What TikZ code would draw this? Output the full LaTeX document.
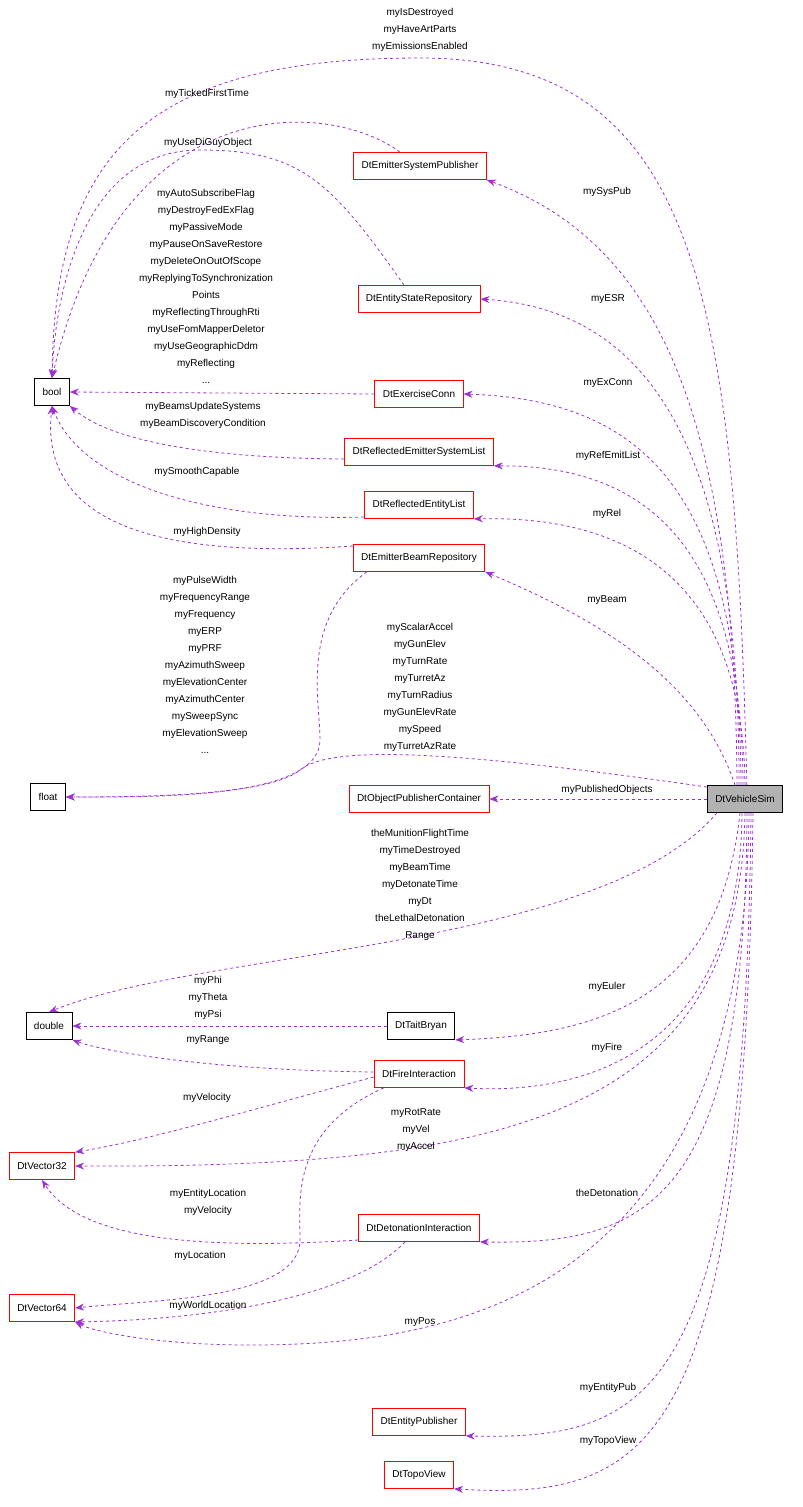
\documentclass[tikz,border=0pt]{standalone}
\usepackage{fontspec}
\setmainfont{Liberation Sans}
\usetikzlibrary{arrows.meta}
\definecolor{edgecol}{HTML}{9A32CD}

\begin{document}
\begin{tikzpicture}[x=1pt,y=-1pt,font=\fontsize{10}{17}\selectfont]
				\tikzstyle{every node}=[inner sep=0pt]
				\tikzstyle{cls}=[draw=red,thick,minimum height=27pt,inner xsep=8pt,fill=white]
				\tikzstyle{basic}=[cls,draw=black]
				\tikzstyle{rel}=[draw=edgecol,thick,dashed,-{Stealth[length=9pt,width=7pt]}]
				\tikzstyle{lbl}=[align=center]
				\useasboundingbox (0,0) rectangle (803,1507);
				% classes
				\node[basic] (bool) at (52,392) {bool};
				\node[basic] (float) at (48,797) {float};
				\node[basic] (double) at (49,1026) {double};
				\node[cls] (vec32) at (42,1166) {DtVector32};
				\node[cls] (vec64) at (42,1308) {DtVector64};
				\node[cls] (esp) at (420,166) {DtEmitterSystemPublisher};
				\node[cls] (esr) at (419,299) {DtEntityStateRepository};
				\node[cls] (exconn) at (419,394) {DtExerciseConn};
				\node[cls] (resl) at (419,452) {DtReflectedEmitterSystemList};
				\node[cls] (rel) at (419,505) {DtReflectedEntityList};
				\node[cls] (ebr) at (419,558) {DtEmitterBeamRepository};
				\node[cls] (opc) at (419,799) {DtObjectPublisherContainer};
				\node[basic,fill=black!30] (vsim) at (745,799) {DtVehicleSim};
				\node[basic] (tait) at (421,1026) {DtTaitBryan};
				\node[cls] (fire) at (419,1074) {DtFireInteraction};
				\node[cls] (deton) at (419,1228) {DtDetonationInteraction};
				\node[cls] (entpub) at (419,1422) {DtEntityPublisher};
				\node[cls] (topo) at (419,1475) {DtTopoView};
				% links to bool
				\draw[rel] (vsim.north west) ++(40,0) .. controls (735,300) and (700,58) .. (420,58) .. controls (150,58) and (55,150) .. (bool.north);
				\draw[rel] (esp.north) ++(-20,0) .. controls (330,100) and (120,85) .. (bool.north);
				\draw[rel] (esr.north) ++(-15,0) .. controls (330,180) and (300,150) .. (200,150) .. controls (80,150) and (55,300) .. (bool.north);
				\draw[rel] (exconn.west) -- (bool.east);
				\draw[rel] (resl.west) ++(0,7) .. controls (200,458) and (110,440) .. (bool.south east);
				\draw[rel] (rel.west) ++(0,12) .. controls (200,522) and (80,480) .. (bool.south);
				\draw[rel] (ebr.west) ++(0,-12) .. controls (150,560) and (40,520) .. (bool.south);
				% links to float
				\draw[rel] (ebr.south west) ++(14,0) .. controls (300,620) and (320,700) .. (320,740) .. controls (320,800) and (150,797) .. (float.east);
				\draw[rel] (vsim.west) ++(0,-12) .. controls (450,750) and (330,745) .. (300,770) .. controls (270,795) and (150,797) .. (float.east);
				% links from DtVehicleSim
				\draw[rel] (vsim.north) ++(-8,0) .. controls (735,400) and (650,240) .. (esp.south east);
				\draw[rel] (vsim.north) ++(-6,0) .. controls (740,450) and (650,310) .. (esr.east);
				\draw[rel] (vsim.north) ++(-4,0) .. controls (740,500) and (650,400) .. (exconn.east);
				\draw[rel] (vsim.north) ++(-2,0) .. controls (742,550) and (650,465) .. (resl.south east);
				\draw[rel] (vsim.north) .. controls (743,600) and (650,515) .. (rel.south east);
				\draw[rel] (vsim.north) ++(-10,0) .. controls (700,680) and (600,620) .. (ebr.south east);
				\draw[rel] (vsim.west) -- (opc.east);
				\draw[rel] (vsim.south west) ++(10,0) .. controls (600,950) and (200,950) .. (double.north);
				\draw[rel] (tait.west) -- (double.east);
				\draw[rel] (fire.west) ++(0,-2) .. controls (200,1070) and (100,1050) .. (double.south east);
				\draw[rel] (vsim.south) ++(-5,0) .. controls (720,1000) and (600,1035) .. (tait.south east);
				\draw[rel] (vsim.south) ++(-3,0) .. controls (740,1040) and (600,1095) .. (fire.south east);
				\draw[rel] (fire.west) ++(0,3) .. controls (250,1110) and (150,1140) .. (vec32.north east);
				\draw[rel] (vsim.south) .. controls (740,1120) and (500,1168) .. (vec32.east);
				\draw[rel] (vsim.south) ++(2,0) .. controls (745,1200) and (650,1245) .. (deton.south east);
				\draw[rel] (deton.west) ++(0,12) .. controls (200,1250) and (80,1240) .. (vec32.south);
				\draw[rel] (fire.south west) ++(10,0) .. controls (290,1130) and (300,1200) .. (300,1240) .. controls (300,1300) and (150,1300) .. (vec64.east);
				\draw[rel] (deton.south) ++(-14,0) .. controls (350,1300) and (200,1320) .. (vec64.south east);
				\draw[rel] (vsim.south) ++(4,0) .. controls (745,1300) and (450,1345) .. (250,1345) .. controls (150,1345) and (90,1330) .. (vec64.south east);
				\draw[rel] (vsim.south) ++(6,0) .. controls (745,1400) and (650,1440) .. (entpub.south east);
				\draw[rel] (vsim.south) ++(8,0) .. controls (745,1450) and (650,1500) .. (topo.south east);
				% labels
				\node[lbl] (l1) at (420,30) {myIsDestroyed\\myHaveArtParts\\myEmissionsEnabled};
				\node[lbl] (l2) at (207,94) {myTickedFirstTime};
				\node[lbl] (l3) at (208,143) {myUseDiGuyObject};
				\node[lbl] (l4) at (206,286) {myAutoSubscribeFlag\\myDestroyFedExFlag\\myPassiveMode\\myPauseOnSaveRestore\\myDeleteOnOutOfScope\\myReplyingToSynchronization\\Points\\myReflectingThroughRti\\myUseFomMapperDeletor\\myUseGeographicDdm\\myReflecting\\...};
				\node[lbl] (l5) at (203,415) {myBeamsUpdateSystems\\myBeamDiscoveryCondition};
				\node[lbl] (l6) at (197,472) {mySmoothCapable};
				\node[lbl] (l7) at (207,532) {myHighDensity};
				\node[lbl] (l8) at (205,665) {myPulseWidth\\myFrequencyRange\\myFrequency\\myERP\\myPRF\\myAzimuthSweep\\myElevationCenter\\myAzimuthCenter\\mySweepSync\\myElevationSweep\\...};
				\node[lbl] (l9) at (420,687) {myScalarAccel\\myGunElev\\myTurnRate\\myTurretAz\\myTurnRadius\\myGunElevRate\\mySpeed\\myTurretAzRate};
				\node[lbl] (l10) at (607,192) {mySysPub};
				\node[lbl] (l11) at (608,299) {myESR};
				\node[lbl] (l12) at (608,383) {myExConn};
				\node[lbl] (l13) at (608,456) {myRefEmitList};
				\node[lbl] (l14) at (607,514) {myRel};
				\node[lbl] (l15) at (607,600) {myBeam};
				\node[lbl] (l16) at (607,790) {myPublishedObjects};
				\node[lbl] (l17) at (420,885) {theMunitionFlightTime\\myTimeDestroyed\\myBeamTime\\myDetonateTime\\myDt\\theLethalDetonation\\Range};
				\node[lbl] (l18) at (208,998) {myPhi\\myTheta\\myPsi};
				\node[lbl] (l19) at (208,1040) {myRange};
				\node[lbl] (l20) at (607,987) {myEuler};
				\node[lbl] (l21) at (607,1048) {myFire};
				\node[lbl] (l22) at (207,1098) {myVelocity};
				\node[lbl] (l23) at (416,1130) {myRotRate\\myVel\\myAccel};
				\node[lbl] (l24) at (607,1193) {theDetonation};
				\node[lbl] (l25) at (208,1202) {myEntityLocation\\myVelocity};
				\node[lbl] (l26) at (200,1256) {myLocation};
				\node[lbl] (l27) at (208,1306) {myWorldLocation};
				\node[lbl] (l28) at (420,1322) {myPos};
				\node[lbl] (l29) at (608,1388) {myEntityPub};
				\node[lbl] (l30) at (608,1441) {myTopoView};
\end{tikzpicture}
\end{document}
